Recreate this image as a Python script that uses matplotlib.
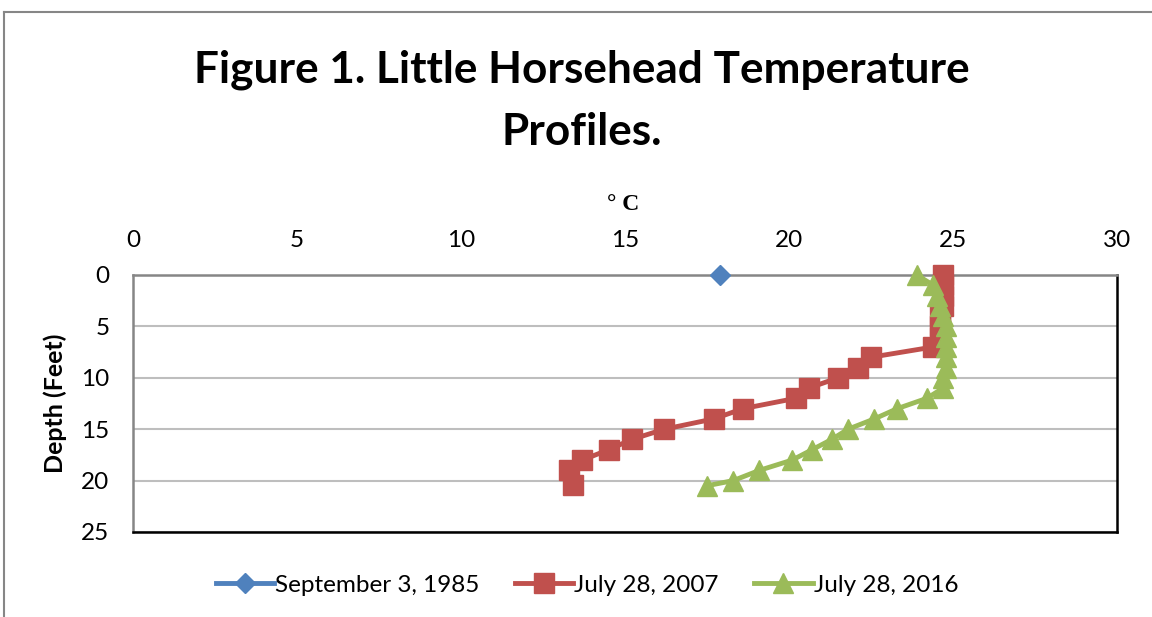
import matplotlib
matplotlib.use("Agg")
import matplotlib.pyplot as plt
from matplotlib.lines import Line2D

# data (depth in feet, temperature in deg C)
depth_1985 = [0]
temp_1985 = [17.9]

depth_2007 = [0, 1, 2, 3, 4, 5, 6, 7, 8, 9, 10, 11, 12, 13, 14, 15, 16, 17, 18, 19, 20.4]
temp_2007 = [24.7, 24.7, 24.7, 24.7, 24.6, 24.6, 24.6, 24.4, 22.5, 22.1, 21.5, 20.6,
             20.2, 18.6, 17.7, 16.2, 15.2, 14.5, 13.7, 13.3, 13.4]

depth_2016 = [0, 1, 2, 3, 4, 5, 6, 7, 8, 9, 10, 11, 12, 13, 14, 15, 16, 17, 18, 19, 20, 20.5]
temp_2016 = [23.9, 24.4, 24.5, 24.6, 24.7, 24.8, 24.8, 24.8, 24.8, 24.8, 24.7, 24.7,
             24.2, 23.3, 22.6, 21.8, 21.3, 20.7, 20.1, 19.1, 18.3, 17.5]

labels = ["September 3, 1985", "July 28, 2007", "July 28, 2016"]
x_ticks = [0, 5, 10, 15, 20, 25, 30]
y_ticks = [0, 5, 10, 15, 20, 25]

plt.rcParams['font.family'] = ['Lato', 'DejaVu Sans']

W, H = 1152, 617
fig = plt.figure(figsize=(W / 100, H / 100), dpi=100)
ax = fig.add_axes([133 / W, 1 - 532 / H, (1117 - 133) / W, (532 - 275) / H])

ax.plot(temp_1985, depth_1985, color='#4F81BD', marker='D', ms=10, lw=3.5,
        label=labels[0], clip_on=False, zorder=4)
ax.plot(temp_2007, depth_2007, color='#C0504D', marker='s', ms=14, lw=3.5,
        label=labels[1], clip_on=False, zorder=3)
ax.plot(temp_2016, depth_2016, color='#9BBB59', marker='^', ms=14, lw=3.5,
        label=labels[2], clip_on=False, zorder=4)

ax.set_xlim(0, 30)
ax.set_ylim(25, 0)
ax.set_xticks(x_ticks)
ax.set_yticks(y_ticks)
ax.xaxis.tick_top()
ax.tick_params(axis='both', length=0, labelsize=17.5, pad=17)
ax.grid(axis='y', color='#BEBEBE', lw=1.5)
ax.set_axisbelow(True)

ax.spines['top'].set_color('#868686')
ax.spines['left'].set_color('#868686')
ax.spines['bottom'].set_color('black')
ax.spines['right'].set_color('black')
for s in ax.spines.values():
    s.set_linewidth(1.8)

ax.set_ylabel('Depth (Feet)', fontsize=18, fontweight='bold', labelpad=10)

fig.text(582 / W, 1 - 83 / H, 'Figure 1. Little Horsehead Temperature',
         ha='center', va='baseline', fontsize=31.8, fontweight='bold')
fig.text(582 / W, 1 - 145 / H, 'Profiles.',
         ha='center', va='baseline', fontsize=31.8, fontweight='bold')
fig.text(623 / W, 1 - 210 / H, '° C', ha='center', va='baseline',
         fontsize=17, fontweight='bold', family='Liberation Serif')

fig.legend(loc='center', bbox_to_anchor=(587 / W, 1 - 585 / H), ncol=3,
           frameon=False, fontsize=17.5, handlelength=2.4, handletextpad=0.05,
           columnspacing=1.45)

# chart area border
fig.add_artist(Line2D([4 / W, 4 / W], [0, 1 - 12 / H], color='#868686', lw=1.5))
fig.add_artist(Line2D([4 / W, 1], [1 - 12 / H, 1 - 12 / H], color='#868686', lw=1.5))

fig.savefig('out.png', dpi=100)
